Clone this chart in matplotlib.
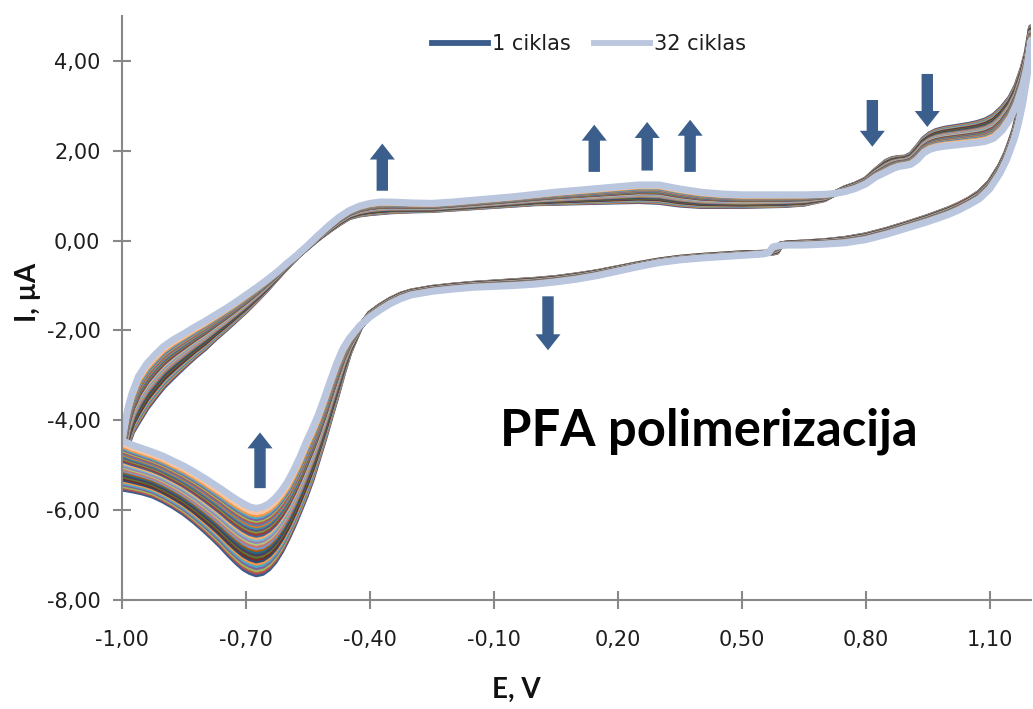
import matplotlib
matplotlib.use('Agg')
import matplotlib.pyplot as plt
from matplotlib.patches import FancyArrowPatch
from matplotlib.lines import Line2D
import numpy as np

# ---------------- data ----------------
# forward (anodic) sweep, -1.0 V -> 1.2 V
E_fwd = [-1.000, -0.995, -0.990, -0.985, -0.975, -0.96, -0.94, -0.92, -0.90, -0.875,
         -0.85, -0.825, -0.80, -0.775, -0.75, -0.725, -0.70, -0.675, -0.65, -0.625,
         -0.60, -0.575, -0.55, -0.525, -0.50, -0.475, -0.45, -0.425, -0.40, -0.375,
         -0.35, -0.30, -0.25, -0.20, -0.15, -0.10, -0.05, 0.00, 0.05, 0.10,
         0.15, 0.20, 0.25, 0.30, 0.35, 0.40, 0.45, 0.50, 0.55, 0.60,
         0.65, 0.70, 0.725, 0.75, 0.775, 0.80, 0.825, 0.85, 0.865, 0.88,
         0.895, 0.91, 0.925, 0.94, 0.955, 0.97, 0.99, 1.01, 1.03, 1.05,
         1.07, 1.09, 1.11, 1.13, 1.15, 1.165, 1.18, 1.19, 1.20]
I_fwd_c1 = [-5.52, -5.00, -4.70, -4.50, -4.25, -4.02, -3.72, -3.48, -3.25, -3.02,
            -2.80, -2.59, -2.40, -2.18, -1.98, -1.77, -1.56, -1.33, -1.09, -0.83,
            -0.58, -0.34, -0.14, 0.05, 0.22, 0.38, 0.52, 0.58, 0.61, 0.63,
            0.65, 0.67, 0.68, 0.71, 0.74, 0.77, 0.80, 0.83, 0.84, 0.85,
            0.86, 0.87, 0.88, 0.86, 0.80, 0.77, 0.77, 0.77, 0.78, 0.79,
            0.82, 0.92, 1.05, 1.17, 1.25, 1.36, 1.57, 1.76, 1.82, 1.84,
            1.85, 1.92, 2.08, 2.26, 2.37, 2.44, 2.49, 2.52, 2.55, 2.58,
            2.62, 2.68, 2.78, 2.95, 3.18, 3.45, 3.85, 4.20, 4.75]
I_fwd_c32 = [-4.45, -4.18, -3.92, -3.70, -3.38, -3.02, -2.74, -2.54, -2.36, -2.20,
             -2.07, -1.93, -1.80, -1.66, -1.52, -1.37, -1.21, -1.05, -0.88, -0.70,
             -0.50, -0.31, -0.10, 0.12, 0.33, 0.52, 0.67, 0.77, 0.83, 0.86,
             0.86, 0.84, 0.83, 0.86, 0.90, 0.94, 0.98, 1.03, 1.08, 1.12,
             1.16, 1.20, 1.24, 1.24, 1.15, 1.08, 1.04, 1.02, 1.02, 1.02,
             1.02, 1.03, 1.05, 1.09, 1.16, 1.26, 1.42, 1.53, 1.60, 1.65,
             1.67, 1.70, 1.80, 1.95, 2.03, 2.07, 2.10, 2.12, 2.14, 2.16,
             2.18, 2.21, 2.28, 2.45, 2.72, 3.02, 3.45, 3.85, 4.45]

# reverse (cathodic) sweep, 1.2 V -> -1.0 V
E_rev = [1.20, 1.19, 1.18, 1.17, 1.16, 1.15, 1.14, 1.125, 1.10, 1.075,
         1.05, 1.025, 1.00, 0.95, 0.90, 0.85, 0.80, 0.75, 0.70, 0.65,
         0.61, 0.595, 0.585, 0.575, 0.565, 0.55, 0.50, 0.45, 0.40, 0.35,
         0.30, 0.25, 0.20, 0.15, 0.10, 0.05, 0.00, -0.05, -0.10, -0.15,
         -0.20, -0.25, -0.30, -0.325, -0.35, -0.375, -0.40, -0.425, -0.45, -0.465,
         -0.48, -0.495, -0.51, -0.525, -0.54, -0.555, -0.57, -0.585, -0.60, -0.615,
         -0.63, -0.645, -0.66, -0.675, -0.69, -0.705, -0.72, -0.74, -0.76, -0.78,
         -0.80, -0.825, -0.85, -0.875, -0.90, -0.925, -0.95, -0.975, -1.00]
I_rev_c1 = [4.75, 3.90, 3.30, 2.85, 2.48, 2.20, 1.95, 1.66, 1.30, 1.07,
            0.92, 0.80, 0.70, 0.53, 0.38, 0.24, 0.12, 0.04, -0.01, -0.04,
            -0.06, -0.08, -0.25, -0.27, -0.27, -0.27, -0.28, -0.31, -0.34, -0.38,
            -0.44, -0.52, -0.61, -0.70, -0.77, -0.83, -0.87, -0.90, -0.93, -0.96,
            -1.00, -1.05, -1.13, -1.20, -1.31, -1.45, -1.62, -1.95, -2.50, -2.95,
            -3.45, -3.92, -4.40, -4.85, -5.30, -5.68, -6.02, -6.35, -6.65, -6.92,
            -7.14, -7.30, -7.40, -7.43, -7.38, -7.30, -7.18, -7.00, -6.80, -6.62,
            -6.45, -6.25, -6.07, -5.92, -5.79, -5.68, -5.61, -5.56, -5.52]
I_rev_c32 = [4.45, 3.62, 3.05, 2.62, 2.28, 2.02, 1.78, 1.50, 1.15, 0.93,
             0.80, 0.68, 0.58, 0.42, 0.28, 0.14, 0.02, -0.05, -0.08, -0.10,
             -0.10, -0.11, -0.12, -0.14, -0.27, -0.30, -0.33, -0.36, -0.39, -0.43,
             -0.49, -0.58, -0.68, -0.78, -0.86, -0.92, -0.97, -1.00, -1.02, -1.04,
             -1.08, -1.13, -1.21, -1.29, -1.40, -1.54, -1.70, -1.90, -2.18, -2.40,
             -2.72, -3.10, -3.50, -3.88, -4.20, -4.50, -4.83, -5.12, -5.38, -5.58,
             -5.74, -5.86, -5.93, -5.96, -5.93, -5.86, -5.78, -5.66, -5.53, -5.41,
             -5.29, -5.15, -5.02, -4.91, -4.80, -4.71, -4.63, -4.55, -4.45]

# cathodic peak current of every cycle (1..32) at about -0.675 V
peak_current = [-7.43, -7.37, -7.32, -7.27, -7.22, -7.17, -7.12, -7.07, -7.02, -6.97,
                -6.92, -6.87, -6.83, -6.78, -6.73, -6.69, -6.64, -6.60, -6.55, -6.51,
                -6.46, -6.42, -6.38, -6.34, -6.30, -6.26, -6.22, -6.18, -6.14, -6.10,
                -6.05, -5.96]

first_color = '#3C5D8B'
last_color = '#BAC6DE'
mid_colors = ['#C0504D', '#9BBB59', '#8064A2', '#4BACC6', '#F79646', '#2C4D75',
              '#772C2A', '#5F7530', '#4D3B62', '#276A7C', '#B65708', '#729ACA',
              '#CD7371', '#AFC97A', '#9983B5', '#6FBDD1', '#F9AB6B', '#3A679C',
              '#9E3A38', '#7E9A40', '#664F83', '#358EA6', '#DB7A2B', '#4F81BD',
              '#C0504D', '#9BBB59', '#8064A2', '#4BACC6', '#F79646', '#F6C6A4']

legend_labels = ['1 ciklas', '32 ciklas']
x_ticks = [-1.0, -0.7, -0.4, -0.1, 0.2, 0.5, 0.8, 1.1]
y_ticks = [-8, -6, -4, -2, 0, 2, 4]

# arrows: potential, tail current, head current
arrow_E = [-0.370, 0.143, 0.271, 0.375, 0.816, 0.949, 0.031, -0.666]
arrow_tail = [1.11, 1.53, 1.56, 1.53, 3.13, 3.71, -1.24, -5.51]
arrow_head = [2.16, 2.58, 2.64, 2.69, 2.09, 2.53, -2.44, -4.27]

annotation_text = 'PFA polimerizacija'

# ---------------- figure ----------------
W, H = 1033, 709
fig = plt.figure(figsize=(W / 100, H / 100), dpi=100)
ax = fig.add_axes([122 / W, (H - 600) / H, (1031 - 122) / W, (600 - 16) / H])

E_all = np.array(E_fwd + E_rev)
c1 = np.array(I_fwd_c1 + I_rev_c1)
c32 = np.array(I_fwd_c32 + I_rev_c32)
p = np.array(peak_current)
n = len(p)
lw = 4.2
for k in range(n):
    w = (p[k] - p[0]) / (p[-1] - p[0])
    Ik = c1 + w * (c32 - c1)
    if k == 0:
        col = first_color
    elif k == n - 1:
        col = last_color
    else:
        col = mid_colors[k - 1]
    ax.plot(E_all, Ik, color=col, lw=(5.0 if k == n - 1 else lw),
            solid_joinstyle='round', solid_capstyle='round', zorder=2 + k * 0.01)

ax.set_xlim(-1.0, 1.2)
ax.set_ylim(-8, 5)

axis_col = '#888888'
for s in ['top', 'right']:
    ax.spines[s].set_visible(False)
for s in ['left', 'bottom']:
    ax.spines[s].set_color(axis_col)
    ax.spines[s].set_linewidth(1.5)

ax.set_xticks(x_ticks)
ax.set_xticklabels([f"{v:.2f}".replace('.', ',') for v in x_ticks])
ax.set_yticks(y_ticks)
ax.set_yticklabels([f"{v:.2f}".replace('.', ',') for v in y_ticks])
ax.tick_params(axis='both', direction='inout', length=13, width=1.5,
               color=axis_col, labelsize=15, labelcolor='#1e1e1e')
ax.tick_params(axis='x', pad=15)
ax.tick_params(axis='y', pad=9)
for lab in ax.get_xticklabels() + ax.get_yticklabels():
    lab.set_family('DejaVu Sans')

label_font = dict(family=['Lato', 'DejaVu Sans'], weight='bold', size=20, color='#111111')
ax.set_xlabel('E, V', **label_font)
ax.set_ylabel('I, µA', **label_font)
ax.xaxis.set_label_coords((516 - 122) / 909, (600 - 690) / 584)
ax.xaxis.label.set_va('center')
ax.yaxis.set_label_coords((28 - 122) / 909, (600 - 292) / 584)
ax.yaxis.label.set_va('center')

# arrows
arrow_col = '#3B5E8C'
for x, t, h in zip(arrow_E, arrow_tail, arrow_head):
    a = FancyArrowPatch((x, t), (x, h),
                        arrowstyle='simple,head_width=2.2,head_length=1.4,tail_width=1.0',
                        mutation_scale=8.2, color=arrow_col, lw=0,
                        shrinkA=0, shrinkB=0, zorder=5)
    ax.add_patch(a)

ax.text(-0.085, -4.56, annotation_text, ha='left', va='baseline',
        family=['Lato', 'DejaVu Sans'], weight='bold', size=36.5, color='#000000')

handles = [Line2D([], [], color=first_color, lw=lw),
           Line2D([], [], color=last_color, lw=lw)]
leg = fig.legend(handles, legend_labels, loc='center', ncol=2,
                 bbox_to_anchor=(589 / W, 1 - 44 / H), frameon=False,
                 prop=dict(family='DejaVu Sans', size=15), handlelength=2.7,
                 handletextpad=0.2, columnspacing=1.1)
for t in leg.get_texts():
    t.set_color('#1e1e1e')

fig.savefig('out.png', dpi=100)
